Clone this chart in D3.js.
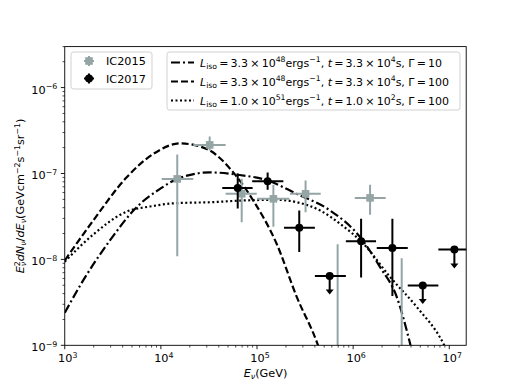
<!DOCTYPE html>
<html>
<head>
<meta charset="utf-8">
<script src="https://cdn.jsdelivr.net/npm/d3@7"></script>
<style>
  body { margin: 0; background: #fff; }
  svg text { font-family: "DejaVu Sans", sans-serif; }
</style>
</head>
<body>
<div id="plot"></div>
<script>
// IC2015 (grey squares) -- last two only show their upper error bars
var ic15E    = [1.48e4, 3.22e4, 6.93e4, 1.48e5, 3.2e5, 1.5e6, 6.9e5, 3.2e6];
var ic15Elo  = [1.02e4, 2.17e4, 4.72e4, 1.0e5, 2.2e5, 1.04e6, 4.8e5, 2.2e6];
var ic15Ehi  = [2.17e4, 4.72e4, 9.93e4, 2.17e5, 4.6e5, 2.18e6, 1.0e6, 4.6e6];
var ic15F    = [8.65e-8, 2.15e-7, 5.8e-8, 5.07e-8, 5.8e-8, 5.2e-8, 5e-10, 5e-10];
var ic15Flo  = [1.09e-8, 1.85e-7, 2.7e-8, 2.4e-8, 3.55e-8, 3.3e-8, 1e-10, 1e-10];
var ic15Fhi  = [1.66e-7, 2.7e-7, 8.7e-8, 7.4e-8, 8.3e-8, 7.4e-8, 1.5e-8, 1.03e-8];

// IC2017 (black circles), ul = upper limit
var ic17E    = [6.3e4, 1.29e5, 2.75e5, 5.7e5, 1.21e6, 2.56e6, 5.3e6, 1.13e7];
var ic17Elo  = [4.35e4, 8.9e4, 1.91e5, 4.0e5, 8.4e5, 1.76e6, 3.7e6, 7.7e6];
var ic17Ehi  = [9.0e4, 1.88e5, 4.0e5, 8.4e5, 1.73e6, 3.7e6, 7.7e6, 1.66e7];
var ic17F    = [6.8e-8, 8.1e-8, 2.34e-8, 6.4e-9, 1.63e-8, 1.36e-8, 4.97e-9, 1.3e-8];
var ic17Flo  = [3.9e-8, 6.45e-8, 1.22e-8, 4.07e-9, 6.15e-9, 3.76e-9, 3.15e-9, 8.17e-9];
var ic17Fhi  = [1.0e-7, 1.03e-7, 3.7e-8, 6.4e-9, 2.97e-8, 2.97e-8, 4.97e-9, 1.3e-8];
var ic17UL   = [0, 0, 0, 1, 0, 0, 1, 1];

// model curves
var dashdotE = [1e3, 1.56e3, 2.96e3, 5.6e3, 9.8e3, 1.48e4, 3.24e4, 6.15e4, 1.29e5, 2.59e5, 5.74e5, 1.18e6, 1.9e6, 2.84e6, 3.91e6, 5.0e6];
var dashdotF = [2.39e-9, 5.73e-9, 1.67e-8, 4.06e-8, 6.62e-8, 8.65e-8, 1.03e-7, 9.7e-8, 8.28e-8, 5.79e-8, 3.72e-8, 1.82e-8, 8.17e-9, 3.66e-9, 1.05e-9, 3.2e-10];
var dashedE  = [1e3, 1.98e3, 4.41e3, 8.34e3, 1.58e4, 3.0e4, 5.66e4, 9.14e4, 1.6e5, 2.59e5, 4.24e5, 5.6e5];
var dashedF  = [9.7e-9, 2.84e-8, 9.04e-8, 1.69e-7, 2.24e-7, 1.93e-7, 1.03e-7, 4.85e-8, 1.52e-8, 3.66e-9, 1.05e-9, 4e-10];
var dottedE  = [1e3, 1.98e3, 4.41e3, 7.7e3, 1.46e4, 3.24e4, 7.2e4, 1.6e5, 2.59e5, 4.52e5, 7.3e5, 1.28e6, 2.42e6, 4.58e6, 8.67e6, 1.26e7];
var dottedF  = [9.4e-9, 1.95e-8, 3.6e-8, 4.13e-8, 4.52e-8, 4.63e-8, 4.85e-8, 4.94e-8, 4.63e-8, 3.72e-8, 2.6e-8, 1.52e-8, 6.25e-9, 2.8e-9, 1.05e-9, 4e-10];

var xMajor = [1e3, 1e4, 1e5, 1e6, 1e7];
var xMajorExp = ["3", "4", "5", "6", "7"];
var yMajor = [1e-9, 1e-8, 1e-7, 1e-6];
var yMajorExp = ["\u22129", "\u22128", "\u22127", "\u22126"];

var W = 518, H = 388;
var L = 64.75, R = 466.2, T = 46.6, B = 345.3;
var fs = 11.25;
var grey = "#95a5a6";

var svg = d3.select("#plot").append("svg")
            .attr("width", W).attr("height", H);

var x = d3.scaleLog().domain([1e3, 1.5e7]).range([L, R]);
var y = d3.scaleLog().domain([1e-9, 3e-6]).range([B, T]);

svg.append("clipPath").attr("id", "clip")
   .append("rect").attr("x", L).attr("y", T).attr("width", R - L).attr("height", B - T);

// mathtext-ish helper
function rich(t, parts, size) {
    var shift = 0;
    parts.forEach(function(p) {
        var s = p[0], k = p[1] || "r";
        var target = 0, sz = size;
        if (k.indexOf("sup") >= 0) { target = -0.4 * size; sz = 0.7 * size; }
        if (k.indexOf("sub") >= 0) { target = 0.22 * size; sz = 0.7 * size; }
        var ts = t.append("tspan")
                  .attr("dy", target - shift)
                  .attr("font-size", sz)
                  .attr("font-style", k.charAt(0) == "i" ? "italic" : "normal")
                  .text(s);
        if (p[2]) ts.attr("dx", p[2]);
        shift = target;
    });
}

// curves
var plot = svg.append("g").attr("clip-path", "url(#clip)");
var line = d3.line().x(d => x(d[0])).y(d => y(d[1])).curve(d3.curveMonotoneX);
var curves = [
    {E: dashdotE, F: dashdotF, dash: "9,3,2,3"},
    {E: dashedE, F: dashedF, dash: "7,3"},
    {E: dottedE, F: dottedF, dash: "2,2.5"}
];
curves.forEach(function(c) {
    plot.append("path")
        .datum(c.E.map((e, i) => [e, c.F[i]]))
        .attr("fill", "none")
        .attr("stroke", "#000")
        .attr("stroke-width", 2.2)
        .attr("stroke-dasharray", c.dash)
        .attr("d", line);
});

// IC2015
ic15E.forEach(function(e, i) {
    var g = plot.append("g");
    g.append("line").attr("x1", x(ic15Elo[i])).attr("x2", x(ic15Ehi[i]))
        .attr("y1", y(ic15F[i])).attr("y2", y(ic15F[i]))
        .attr("stroke", grey).attr("stroke-width", 2);
    g.append("line").attr("x1", x(e)).attr("x2", x(e))
        .attr("y1", y(ic15Flo[i])).attr("y2", y(ic15Fhi[i]))
        .attr("stroke", grey).attr("stroke-width", 2);
    g.append("rect").attr("x", x(e) - 3.8).attr("y", y(ic15F[i]) - 3.8)
        .attr("width", 7.6).attr("height", 7.6).attr("fill", grey);
});

// IC2017
ic17E.forEach(function(e, i) {
    var g = plot.append("g");
    var cy = y(ic17F[i]);
    g.append("line").attr("x1", x(ic17Elo[i])).attr("x2", x(ic17Ehi[i]))
        .attr("y1", cy).attr("y2", cy)
        .attr("stroke", "#000").attr("stroke-width", 2);
    g.append("line").attr("x1", x(e)).attr("x2", x(e))
        .attr("y1", y(ic17Flo[i])).attr("y2", y(ic17Fhi[i]))
        .attr("stroke", "#000").attr("stroke-width", 2);
    if (ic17UL[i]) {
        var ye = y(ic17Flo[i]), xe = x(e);
        g.append("path")
         .attr("d", "M" + (xe - 4) + "," + (ye - 3.5) + "L" + (xe + 4) + "," + (ye - 3.5) + "L" + xe + "," + (ye + 1.5) + "Z")
         .attr("fill", "#000");
    }
    g.append("circle").attr("cx", x(e)).attr("cy", cy).attr("r", 4).attr("fill", "#000");
});

// axes ticks
var ax = svg.append("g");
var xMinor = [];
for (var d = 1e3; d < 1.5e7; d *= 10) for (var m = 2; m < 10; m++) if (d * m <= 1.5e7) xMinor.push(d * m);
var yMinor = [];
for (var d2 = 1e-9; d2 < 3e-6; d2 *= 10) for (var m2 = 2; m2 < 10; m2++) if (d2 * m2 <= 3.0001e-6) yMinor.push(d2 * m2);

xMinor.forEach(v => ax.append("line").attr("x1", x(v)).attr("x2", x(v)).attr("y1", B).attr("y2", B + 2.25)
                         .attr("stroke", "#000").attr("stroke-width", 0.7));
yMinor.forEach(v => ax.append("line").attr("y1", y(v)).attr("y2", y(v)).attr("x1", L).attr("x2", L - 2.25)
                         .attr("stroke", "#000").attr("stroke-width", 0.7));
xMajor.forEach(function(v, i) {
    ax.append("line").attr("x1", x(v)).attr("x2", x(v)).attr("y1", B).attr("y2", B + 3.9)
      .attr("stroke", "#000").attr("stroke-width", 0.9);
    var t = ax.append("text").attr("x", x(v) + 3).attr("y", B + 17)
              .attr("text-anchor", "middle").attr("font-size", fs);
    rich(t, [["10"], [xMajorExp[i], "sup"]], fs);
});
yMajor.forEach(function(v, i) {
    ax.append("line").attr("y1", y(v)).attr("y2", y(v)).attr("x1", L).attr("x2", L - 3.9)
      .attr("stroke", "#000").attr("stroke-width", 0.9);
    var t = ax.append("text").attr("x", L - 7.5).attr("y", y(v) + 6)
              .attr("text-anchor", "end").attr("font-size", fs);
    rich(t, [["10"], [yMajorExp[i], "sup"]], fs);
});

svg.append("rect").attr("x", L).attr("y", T).attr("width", R - L).attr("height", B - T)
   .attr("fill", "none").attr("stroke", "#000").attr("stroke-width", 0.9);

// axis labels
var xl = svg.append("text").attr("x", (L + R) / 2).attr("y", 377)
            .attr("text-anchor", "middle").attr("font-size", fs);
rich(xl, [["E", "i"], ["\u03bd", "isub"], ["(GeV)"]], fs);

var yl = svg.append("text").attr("transform", "translate(24," + ((T + B) / 2) + ") rotate(-90)")
            .attr("text-anchor", "middle").attr("font-size", fs);
rich(yl, [["E", "i"], ["\u03bd", "isub"], ["2", "sup", -4.5], ["dN", "i"], ["\u03bd", "isub"], ["/", "r"],
          ["dE", "i"], ["\u03bd", "isub"], ["(GeVcm"], ["\u22122", "sup"], ["s"], ["\u22121", "sup"],
          ["sr"], ["\u22121", "sup"], [")"]], fs);

// legend 1
var lg1 = svg.append("g");
lg1.append("rect").attr("x", 71).attr("y", 52).attr("width", 81).attr("height", 37).attr("rx", 2.5)
   .attr("fill", "#fff").attr("fill-opacity", 0.8).attr("stroke", "#cccccc").attr("stroke-width", 0.9);
var legPts = [{name: "IC2015", col: grey, sq: true}, {name: "IC2017", col: "#000", sq: false}];
legPts.forEach(function(p, i) {
    var cy = 61 + i * 17.5, cx = 89;
    lg1.append("line").attr("x1", cx - 5).attr("x2", cx + 5).attr("y1", cy).attr("y2", cy)
       .attr("stroke", p.col).attr("stroke-width", 2);
    lg1.append("line").attr("x1", cx).attr("x2", cx).attr("y1", cy - 5).attr("y2", cy + 5)
       .attr("stroke", p.col).attr("stroke-width", 2);
    if (p.sq) lg1.append("rect").attr("x", cx - 3.8).attr("y", cy - 3.8).attr("width", 7.6).attr("height", 7.6).attr("fill", p.col);
    else lg1.append("circle").attr("cx", cx).attr("cy", cy).attr("r", 4).attr("fill", p.col);
    lg1.append("text").attr("x", 106).attr("y", cy + 4).attr("font-size", fs).text(p.name);
});

// legend 2
var lfs = 11;
var lg2 = svg.append("g");
lg2.append("rect").attr("x", 167).attr("y", 52).attr("width", 293).attr("height", 58).attr("rx", 2.5)
   .attr("fill", "#fff").attr("fill-opacity", 0.8).attr("stroke", "#cccccc").attr("stroke-width", 0.9);
var legLines = [
    {dash: "9,3,2,3", L: "3.3", Lexp: "48", t: "3.3", texp: "4", G: "10"},
    {dash: "7,3", L: "3.3", Lexp: "48", t: "3.3", texp: "4", G: "100"},
    {dash: "2,2.5", L: "1.0", Lexp: "51", t: "1.0", texp: "2", G: "100"}
];
var sp = "\u2009";
legLines.forEach(function(l, i) {
    var cy = 62.5 + i * 19;
    lg2.append("line").attr("x1", 171).attr("x2", 194).attr("y1", cy).attr("y2", cy)
       .attr("stroke", "#000").attr("stroke-width", 2.2).attr("stroke-dasharray", l.dash);
    var t = lg2.append("text").attr("x", 200).attr("y", cy + 4).attr("font-size", lfs);
    rich(t, [["L", "i"], ["iso", "sub"], [sp + "=" + sp + l.L + sp + "\u00d7" + sp + "10"], [l.Lexp, "sup"], ["ergs"], ["\u22121", "sup"],
             [", "], ["t", "i"], [sp + "=" + sp + l.t + sp + "\u00d7" + sp + "10"], [l.texp, "sup"],
             ["s, \u0393" + sp + "=" + sp + l.G]], lfs);
});
</script>
</body>
</html>
